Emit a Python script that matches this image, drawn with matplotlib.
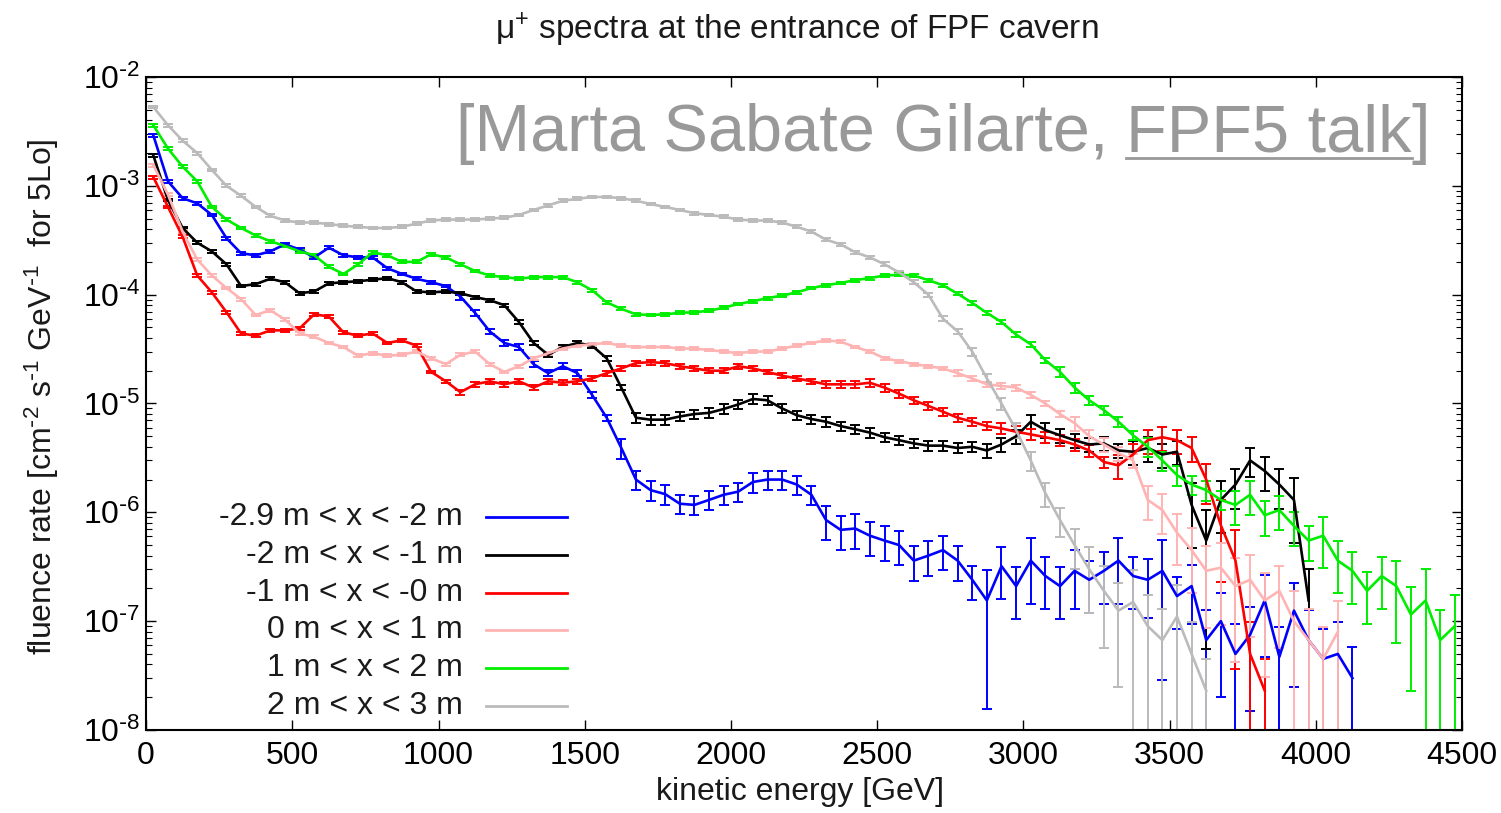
import numpy as np
import matplotlib
matplotlib.use('Agg')
import matplotlib.pyplot as plt
from matplotlib.lines import Line2D
from matplotlib.ticker import FuncFormatter

plt.rcParams['font.family'] = ['Liberation Sans', 'DejaVu Sans']
plt.rcParams['mathtext.default'] = 'regular'
plt.rcParams['axes.unicode_minus'] = False

# bin centres in kinetic energy [GeV], 50 GeV bins
energy = np.arange(25, 4500, 50)

labels = ['-2.9 m < x < -2 m', '-2 m < x < -1 m', '-1 m < x < -0 m',
          '0 m < x < 1 m', '1 m < x < 2 m', '2 m < x < 3 m']
colors = ['#0000ff', '#000000', '#ff0000', '#ffb4b4', '#00ee00', '#bbbbbb']

# fluence rate per bin
blue = [2.9e-3, 1.1e-3, 7.7e-4, 6.9e-4, 5.4e-4, 3.3e-4, 2.4e-4, 2.3e-4, 2.5e-4, 2.9e-4,
        2.6e-4, 2.2e-4, 2.7e-4, 2.3e-4, 2.2e-4, 2.2e-4, 1.75e-4, 1.55e-4, 1.4e-4, 1.3e-4,
        1.2e-4, 9.6e-5, 6.8e-5, 4.6e-5, 3.6e-5, 3.3e-5, 2.3e-5, 1.9e-5, 2.2e-5, 1.9e-5,
        1.2e-5, 7.4e-6, 3.9e-6, 2.0e-6, 1.6e-6, 1.47e-6, 1.2e-6, 1.17e-6, 1.3e-6, 1.45e-6,
        1.55e-6, 1.9e-6, 2.0e-6, 2.0e-6, 1.8e-6, 1.45e-6, 8.5e-7, 6.9e-7, 7.1e-7, 6.1e-7,
        5.5e-7, 5.0e-7, 3.6e-7, 4.0e-7, 4.5e-7, 3.6e-7, 2.4e-7, 1.55e-7, 3.2e-7, 2.1e-7,
        3.6e-7, 2.6e-7, 2.1e-7, 2.9e-7, 2.4e-7, 2.9e-7, 3.6e-7, 2.6e-7, 2.4e-7, 2.9e-7,
        1.7e-7, 2.1e-7, 6.7e-8, 1.0e-7, 5e-8, 7.5e-8, 1.55e-7, 4.7e-8, 1.25e-7, 6.7e-8,
        4.5e-8, 5e-8, 3e-8]
black = [1.9e-3, 7.4e-4, 4.1e-4, 3.0e-4, 2.5e-4, 1.9e-4, 1.2e-4, 1.25e-4, 1.4e-4, 1.3e-4,
         1.03e-4, 1.07e-4, 1.27e-4, 1.3e-4, 1.33e-4, 1.37e-4, 1.42e-4, 1.3e-4, 1.07e-4, 1.05e-4,
         1.07e-4, 1.03e-4, 9.5e-5, 8.9e-5, 8.0e-5, 5.6e-5, 3.6e-5, 2.8e-5, 3.3e-5, 3.6e-5,
         3.4e-5, 2.6e-5, 1.4e-5, 7.4e-6, 7.1e-6, 7.1e-6, 7.6e-6, 8.0e-6, 8.2e-6, 8.9e-6,
         9.8e-6, 1.1e-5, 1.07e-5, 9.0e-6, 7.8e-6, 7.2e-6, 6.8e-6, 6.2e-6, 5.8e-6, 5.4e-6,
         4.9e-6, 4.6e-6, 4.3e-6, 4.1e-6, 4.1e-6, 3.9e-6, 4.0e-6, 3.7e-6, 4.2e-6, 5.0e-6,
         6.8e-6, 5.7e-6, 5.1e-6, 4.6e-6, 4.2e-6, 4.3e-6, 3.7e-6, 3.6e-6, 3.9e-6, 3.4e-6,
         3.6e-6, 1.17e-6, 5.5e-7, 1.3e-6, 1.8e-6, 3.0e-6, 2.4e-6, 1.8e-6, 1.3e-6, 1.55e-7]
red = [1.2e-3, 6.4e-4, 3.4e-4, 1.5e-4, 1.05e-4, 6.9e-5, 4.4e-5, 4.2e-5, 4.7e-5, 4.7e-5,
       4.9e-5, 6.6e-5, 6.3e-5, 4.5e-5, 4.2e-5, 4.4e-5, 3.6e-5, 3.8e-5, 3.4e-5, 1.95e-5,
       1.6e-5, 1.27e-5, 1.5e-5, 1.6e-5, 1.5e-5, 1.6e-5, 1.4e-5, 1.6e-5, 1.55e-5, 1.6e-5,
       1.7e-5, 1.9e-5, 2.1e-5, 2.35e-5, 2.4e-5, 2.35e-5, 2.2e-5, 2.1e-5, 2.0e-5, 2.0e-5,
       2.2e-5, 2.1e-5, 1.95e-5, 1.8e-5, 1.7e-5, 1.6e-5, 1.5e-5, 1.5e-5, 1.5e-5, 1.55e-5,
       1.4e-5, 1.23e-5, 1.07e-5, 9.5e-6, 8.4e-6, 7.4e-6, 6.8e-6, 6.2e-6, 5.9e-6, 5.5e-6,
       5.2e-6, 4.9e-6, 4.6e-6, 4.2e-6, 3.7e-6, 2.9e-6, 2.7e-6, 3.4e-6, 4.6e-6, 4.9e-6,
       4.6e-6, 3.9e-6, 2.0e-6, 7.6e-7, 3.6e-7, 5e-8, 2.3e-8]
pink = [1.55e-3, 8.3e-4, 3.8e-4, 2.1e-4, 1.5e-4, 1.15e-4, 9.1e-5, 6.5e-5, 7.2e-5, 5.9e-5,
        4.4e-5, 4.1e-5, 3.6e-5, 3.3e-5, 2.75e-5, 2.9e-5, 2.75e-5, 2.8e-5, 3.0e-5, 2.6e-5,
        2.3e-5, 2.8e-5, 3.0e-5, 2.3e-5, 1.95e-5, 2.2e-5, 2.6e-5, 2.9e-5, 3.2e-5, 3.4e-5,
        3.5e-5, 3.6e-5, 3.4e-5, 3.3e-5, 3.3e-5, 3.3e-5, 3.2e-5, 3.2e-5, 3.1e-5, 3.0e-5,
        2.9e-5, 3.0e-5, 3.0e-5, 3.2e-5, 3.4e-5, 3.6e-5, 3.8e-5, 3.7e-5, 3.3e-5, 3.0e-5,
        2.6e-5, 2.45e-5, 2.3e-5, 2.2e-5, 2.1e-5, 1.9e-5, 1.7e-5, 1.5e-5, 1.45e-5, 1.4e-5,
        1.2e-5, 1.0e-5, 8.0e-6, 6.6e-6, 5.0e-6, 4.2e-6, 3.5e-6, 3.0e-6, 1.3e-6, 1.05e-6,
        6.5e-7, 4.5e-7, 2.9e-7, 3.1e-7, 2.1e-7, 2.4e-7, 1.55e-7, 1.9e-7, 1.0e-7, 6.7e-8,
        4.5e-8, 8e-8]
green = [3.6e-3, 2.2e-3, 1.5e-3, 1.1e-3, 6.4e-4, 4.9e-4, 4.1e-4, 3.5e-4, 3.1e-4, 2.8e-4,
         2.5e-4, 2.3e-4, 1.8e-4, 1.55e-4, 1.9e-4, 2.45e-4, 2.3e-4, 2.0e-4, 2.0e-4, 2.35e-4,
         2.2e-4, 1.9e-4, 1.65e-4, 1.5e-4, 1.45e-4, 1.4e-4, 1.45e-4, 1.45e-4, 1.45e-4, 1.3e-4,
         1.1e-4, 8.5e-5, 7.4e-5, 6.6e-5, 6.5e-5, 6.6e-5, 6.8e-5, 6.9e-5, 7.1e-5, 7.6e-5,
         8.2e-5, 8.7e-5, 9.3e-5, 9.8e-5, 1.05e-4, 1.15e-4, 1.22e-4, 1.28e-4, 1.36e-4, 1.42e-4,
         1.5e-4, 1.52e-4, 1.5e-4, 1.36e-4, 1.22e-4, 1.02e-4, 8.4e-5, 6.8e-5, 5.6e-5, 4.3e-5,
         3.5e-5, 2.5e-5, 1.95e-5, 1.4e-5, 1.07e-5, 8.7e-6, 6.8e-6, 5.1e-6, 4.0e-6, 3.0e-6,
         2.2e-6, 1.8e-6, 1.6e-6, 1.3e-6, 1.17e-6, 1.45e-6, 9.4e-7, 1.05e-6, 7.5e-7, 5.5e-7,
         6.1e-7, 3.6e-7, 2.9e-7, 1.9e-7, 2.6e-7, 2.1e-7, 1.15e-7, 1.55e-7, 6.7e-8, 9e-8]
gray = [5.3e-3, 3.6e-3, 2.6e-3, 2.0e-3, 1.4e-3, 1.0e-3, 8.1e-4, 6.4e-4, 5.3e-4, 4.8e-4,
        4.6e-4, 4.6e-4, 4.45e-4, 4.3e-4, 4.2e-4, 4.1e-4, 4.1e-4, 4.2e-4, 4.5e-4, 4.8e-4,
        4.9e-4, 4.9e-4, 4.9e-4, 5.0e-4, 5.1e-4, 5.4e-4, 6.0e-4, 6.6e-4, 7.3e-4, 7.6e-4,
        7.9e-4, 7.9e-4, 7.7e-4, 7.3e-4, 6.8e-4, 6.4e-4, 6.0e-4, 5.6e-4, 5.4e-4, 5.2e-4,
        4.9e-4, 4.8e-4, 4.8e-4, 4.6e-4, 4.2e-4, 3.8e-4, 3.2e-4, 2.9e-4, 2.45e-4, 2.2e-4,
        1.9e-4, 1.6e-4, 1.3e-4, 1.0e-4, 6.0e-5, 4.6e-5, 3.0e-5, 1.7e-5, 1.0e-5, 5.7e-6,
        3.0e-6, 1.5e-6, 8.5e-7, 5.0e-7, 3.0e-7, 1.9e-7, 1.25e-7, 1.5e-7, 9e-8, 6.7e-8,
        1.1e-7, 5e-8, 2.3e-8]

# relative statistical error per bin
blue_err = [0.03] * 21 + [0.06] * 11 + [0.2] * 14 + [0.35] * 11 \
    + [0.9, 0.5, 0.5, 0.6, 0.5, 0.5, 0.55, 0.5, 0.5, 0.6, 0.5, 0.55, 0.9, 0.5, 0.55] \
    + [0.9, 0.8, 0.9, 0.8, 0.7, 0.9, 0.8, 0.9, 0.9, 0.95, 0.95]
black_err = [0.03] * 25 + [0.05] * 8 + [0.1] * 24 + [0.15] * 10 + [0.25] * 4 \
    + [0.6, 0.9, 0.5, 0.4, 0.3, 0.35, 0.4, 0.6, 0.95]
red_err = [0.03] * 21 + [0.05] * 25 + [0.08] * 12 + [0.12] * 8 + [0.25] * 6 \
    + [0.4, 0.7, 0.9, 0.95, 0.95]
pink_err = [0.03] * 55 + [0.06] * 8 + [0.15] * 5 \
    + [0.35, 0.4, 0.5, 0.6, 0.7, 0.7, 0.8, 0.7, 0.8, 0.7, 0.9, 0.95, 0.95, 0.9]
green_err = [0.03] * 56 + [0.05] * 6 + [0.1] * 6 + [0.2] * 6 + [0.35] * 6 + [0.5] * 5 \
    + [0.7, 0.8, 0.95, 0.9, 0.95]
gray_err = [0.03] * 50 + [0.04] * 4 + [0.05, 0.06, 0.08, 0.1, 0.12, 0.15] \
    + [0.2, 0.25, 0.3, 0.4] + [0.6, 0.7, 0.8, 0.95, 0.95, 0.95, 0.95, 0.95, 0.95]

series = [blue, black, red, pink, green, gray]
errors = [blue_err, black_err, red_err, pink_err, green_err, gray_err]

fig = plt.figure(figsize=(15.01, 8.13), dpi=100)
ax = fig.add_axes([0.0973, 0.1021, 0.8768, 0.8032])

for vals, rel, col in zip(series, errors, colors):
    v = np.array(vals)
    e = v * np.array(rel)
    ax.errorbar(energy[:len(v)], v, yerr=e, color=col, lw=1.9,
                elinewidth=1.4, capsize=3.5, capthick=1.4)

ax.set_yscale('log')
ax.set_xlim(0, 4500)
ax.set_ylim(1e-8, 1e-2)
ax.set_xticks(range(0, 4501, 500))
# gnuplot-like labels with a plain hyphen in the exponent
ax.yaxis.set_major_formatter(FuncFormatter(
    lambda v, pos: r'$10^{\text{-}%d}$' % round(-np.log10(v))))
ax.tick_params(which='both', direction='in', top=True, right=True, labelsize=23)
ax.tick_params(which='major', length=7, width=1)
ax.tick_params(which='minor', length=4, width=0.8)
ax.tick_params(axis='x', pad=8)
ax.tick_params(axis='y', pad=4)
for s in ax.spines.values():
    s.set_linewidth(1.5)

# legend, gnuplot style: label right-aligned, sample line on the right
leg_y = [0.326, 0.268, 0.210, 0.153, 0.095, 0.037]
for lab, col, yy in zip(labels, colors, leg_y):
    ax.text(0.241, yy, lab, transform=ax.transAxes, ha='right', va='center',
            fontsize=23, color='#1a1a1a')
    ax.add_line(Line2D([0.258, 0.320], [yy, yy], transform=ax.transAxes,
                       color=col, lw=2))

fig.text(0.531, 0.963, r'μ$^{+}$ spectra at the entrance of FPF cavern',
         ha='center', va='center', fontsize=24, color='#1a1a1a')
fig.text(0.533, 0.026, 'kinetic energy [GeV]', ha='center', va='center',
         fontsize=23, color='#1a1a1a')
fig.text(0.028, 0.512,
         r'fluence rate [cm$^{\text{-}2}$ s$^{\text{-}1}$ GeV$^{\text{-}1}$  for 5Lo]',
         rotation=90, ha='center', va='center', fontsize=23, color='#1a1a1a')

# source note with underlined link text
W = fig.bbox.width
base = 0.814
wm = dict(fontsize=48, color='#999999', va='baseline')
r = fig.canvas.get_renderer()
t3 = fig.text(0.9527, base, ']', ha='right', **wm)
bb3 = t3.get_window_extent(r)
t2 = fig.text(bb3.x0 / W, base, 'FPF5 talk', ha='right', **wm)
bb2 = t2.get_window_extent(r)
t1 = fig.text((bb2.x0 - 18) / W, base, '[Marta Sabate Gilarte,', ha='right', **wm)
fig.add_artist(Line2D([bb2.x0 / W, bb2.x1 / W], [0.806, 0.806],
                      transform=fig.transFigure, color='#999999', lw=2))

fig.savefig('out.png', dpi=100)
